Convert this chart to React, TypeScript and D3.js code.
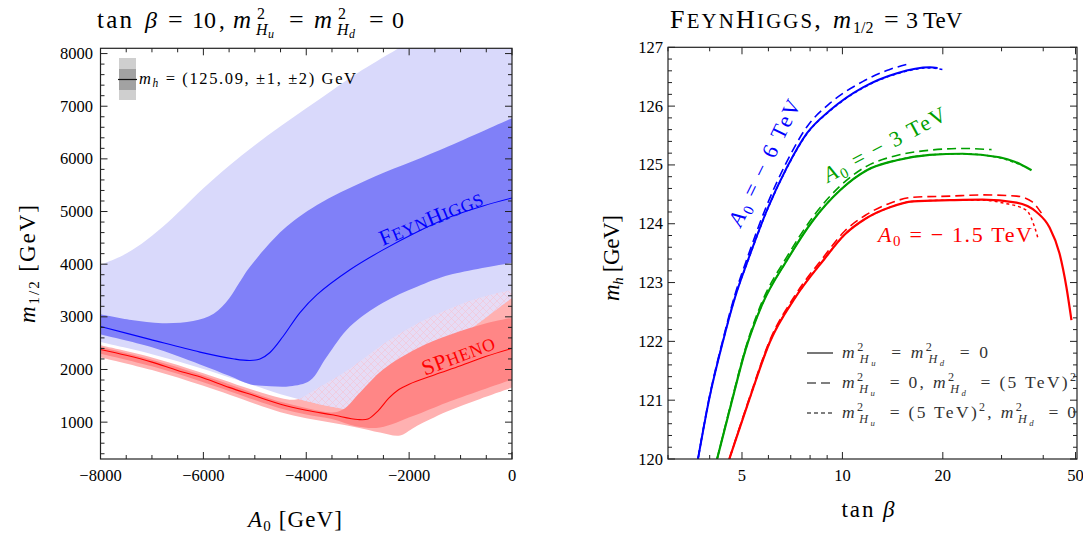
import React from 'react';
import * as d3 from 'd3';

type P = [number, number];

// ---------------- Left panel: tan(beta)=10 ----------------
const leftXMajor = [-8000, -6000, -4000, -2000, 0];
const leftYMajor = [1000, 2000, 3000, 4000, 5000, 6000, 7000, 8000];

// FeynHiggs +-2 GeV band (light blue)
const fh2Upper: P[] = [[-8000, 3990], [-7600, 4150], [-7200, 4390], [-6800, 4700], [-6400, 5060], [-6000, 5440], [-5500, 5870], [-5000, 6260], [-4500, 6620], [-4000, 6960], [-3500, 7300], [-3000, 7630], [-2236, 8080], [-1500, 8480], [0, 9250]];
const fh2Lower: P[] = [[-8000, 2520], [-7000, 2290], [-6000, 2010], [-5000, 1690], [-4500, 1530], [-4000, 1400], [-3500, 1290], [-3091, 1250], [-2508, 1527], [-1847, 2000], [-1206, 2473], [-564, 2947], [0, 3363]];
// FeynHiggs +-1 GeV band (blue)
const fh1Upper: P[] = [[-8000, 3050], [-7400, 2940], [-6800, 2880], [-6200, 2920], [-5800, 3060], [-5500, 3350], [-5300, 3650], [-5094, 3951], [-4452, 4652], [-3791, 5125], [-2819, 5598], [-1400, 6167], [0, 6773]];
const fh1Lower: P[] = [[-8000, 2663], [-7000, 2420], [-6066, 2095], [-5500, 1880], [-5094, 1720], [-4700, 1680], [-4316, 1680], [-3927, 1790], [-3597, 2247], [-3150, 2815], [-2508, 3269], [-1847, 3572], [-1206, 3799], [0, 4026]];
const fhCentral: P[] = [[-8000, 2818], [-7038, 2572], [-6066, 2330], [-5400, 2200], [-5094, 2170], [-4900, 2200], [-4705, 2323], [-4452, 2626], [-4122, 3080], [-3791, 3421], [-3150, 3894], [-2508, 4272], [-1847, 4613], [-1206, 4897], [-564, 5106], [0, 5257]];
// SPheno bands
const sp2Upper: P[] = [[-8000, 2460], [-7000, 2230], [-6000, 1930], [-5000, 1600], [-4500, 1460], [-4200, 1430], [-3790, 1640], [-3149, 2020], [-2508, 2480], [-1847, 2870], [-1206, 3160], [-564, 3381], [0, 3514]];
const sp2Lower: P[] = [[-8000, 2230], [-7000, 1990], [-6000, 1690], [-5000, 1350], [-4500, 1190], [-4000, 1075], [-3500, 990], [-3013, 900], [-2566, 804], [-2177, 747], [-1900, 900], [-1264, 1200], [-622, 1440], [0, 1656]];
const sp1Upper: P[] = [[-8000, 2425], [-7000, 2185], [-6000, 1885], [-5000, 1545], [-4500, 1385], [-4000, 1270], [-3500, 1185], [-3285, 1240], [-2955, 1565], [-2508, 2000], [-1847, 2400], [-1206, 2660], [-500, 2880], [0, 2980]];
const sp1Lower: P[] = [[-8000, 2300], [-7000, 2060], [-6000, 1760], [-5000, 1420], [-4500, 1260], [-4000, 1145], [-3500, 1060], [-3013, 918], [-2566, 899], [-1925, 1115], [-1264, 1373], [0, 1810]];
const spCentral: P[] = [[-8000, 2380], [-7500, 2270], [-7000, 2140], [-6500, 1980], [-6000, 1840], [-5500, 1660], [-5000, 1500], [-4500, 1340], [-4000, 1225], [-3500, 1140], [-3000, 1050], [-2800, 1060], [-2600, 1220], [-2400, 1450], [-2200, 1620], [-2000, 1720], [-1500, 1900], [-1000, 2070], [-500, 2250], [0, 2400]];

// ---------------- Right panel: m_h vs tan(beta) ----------------
const rightXMajor = [5, 10, 20, 50];
const rightXMinor = [3, 4, 6, 7, 8, 9, 30, 40];
const rightYMajor = [120, 121, 122, 123, 124, 125, 126, 127];

const blueSolid: P[] = [[3.69, 120.0], [3.98, 121.0], [4.37, 121.97], [4.76, 122.74], [5.21, 123.38], [5.94, 124.23], [6.82, 124.96], [7.83, 125.54], [9.18, 125.93], [11.53, 126.32], [14.58, 126.56], [18.3, 126.66], [19.3, 126.65]];
const blueLong: P[] = [[3.69, 120.0], [3.98, 121.02], [4.37, 122.0], [4.76, 122.79], [5.21, 123.45], [5.94, 124.32], [6.82, 125.06], [7.83, 125.65], [9.18, 126.05], [11.53, 126.42], [13.8, 126.62], [15.9, 126.72]];
const blueShort: P[] = [[3.69, 120.0], [3.98, 121.0], [4.37, 121.97], [4.76, 122.74], [5.21, 123.37], [5.94, 124.22], [6.82, 124.95], [7.83, 125.53], [9.18, 125.92], [11.53, 126.31], [14.58, 126.55], [18.3, 126.65], [20.0, 126.62]];
const greenSolid: P[] = [[4.21, 120.0], [4.67, 121.0], [5.12, 121.85], [5.74, 122.62], [6.82, 123.38], [8.17, 124.06], [9.84, 124.57], [11.84, 124.91], [14.55, 125.08], [18.27, 125.17], [22.94, 125.19], [29.6, 125.13], [33.0, 125.05], [36.9, 124.91]];
const greenLong: P[] = [[4.21, 120.0], [4.67, 121.02], [5.12, 121.88], [5.74, 122.67], [6.82, 123.44], [8.17, 124.12], [9.84, 124.64], [11.84, 124.98], [14.55, 125.16], [18.27, 125.25], [22.94, 125.28], [28.0, 125.26]];
const greenShort: P[] = [[4.21, 120.0], [4.67, 121.0], [5.12, 121.85], [5.74, 122.62], [6.82, 123.38], [8.17, 124.06], [9.84, 124.57], [11.84, 124.91], [14.55, 125.08], [18.27, 125.17], [22.94, 125.19], [29.6, 125.12], [35.0, 124.98]];
const redSolid: P[] = [[4.58, 120.0], [5.25, 121.0], [6.06, 121.99], [7.21, 122.74], [8.77, 123.38], [10.18, 123.82], [11.69, 124.08], [13.89, 124.28], [16.28, 124.38], [21.0, 124.4], [26.33, 124.41], [33.28, 124.36], [38.17, 124.2], [41.75, 123.94], [44.74, 123.5], [46.95, 122.92], [48.6, 122.36]];
const redLong: P[] = [[4.58, 120.0], [5.25, 121.02], [6.06, 122.02], [7.21, 122.78], [8.77, 123.43], [10.18, 123.88], [11.69, 124.14], [13.89, 124.35], [16.28, 124.45], [21.0, 124.47], [26.33, 124.49], [33.28, 124.47], [37.1, 124.37], [39.5, 124.18]];
const redShort: P[] = [[4.58, 120.0], [5.25, 121.0], [6.06, 121.99], [7.21, 122.74], [8.77, 123.38], [10.18, 123.82], [11.69, 124.08], [13.89, 124.28], [16.28, 124.38], [21.0, 124.4], [26.33, 124.4], [30.5, 124.35], [35.6, 124.23], [37.7, 123.94], [38.5, 123.77]];

const F = "'Liberation Serif', 'Times New Roman', serif";
const BLUE = '#0000ff';
const GREEN = '#00a000';
const RED = '#ff0000';

function range(a: number, b: number, s: number) {
  const out: number[] = [];
  for (let v = a; v <= b + 1e-9; v += s) out.push(+v.toFixed(6));
  return out;
}

// m^2_{H_x} math piece (returns to baseline)
function msq(sub: string, fs: number, k: string) {
  return [
    <tspan key={k + 'm'} fontStyle="italic">m</tspan>,
    <tspan key={k + '2'} fontSize={fs * 0.7} dy={-fs * 0.42}>2</tspan>,
    <tspan key={k + 'H'} fontSize={fs * 0.7} fontStyle="italic" dx={-fs * 0.35} dy={fs * 0.7}>H</tspan>,
    <tspan key={k + 's'} fontSize={fs * 0.5} fontStyle="italic" dy={fs * 0.15}>{sub}</tspan>,
    <tspan key={k + 'r'} dy={-fs * 0.43}>{'\u2009'}</tspan>,
  ];
}

// manual small caps: upper-case letters full size, lower-case as smaller capitals
function smallCaps(s: string, fs: number, k: string) {
  const parts: { t: string; small: boolean }[] = [];
  for (const ch of s) {
    const small = ch !== ch.toUpperCase();
    const last = parts[parts.length - 1];
    if (last && last.small === small) last.t += small ? ch.toUpperCase() : ch;
    else parts.push({ t: small ? ch.toUpperCase() : ch, small });
  }
  return parts.map((p, i) => (
    <tspan key={k + i} fontSize={p.small ? fs * 0.8 : fs}>{p.t}</tspan>
  ));
}

export default function App() {
  const xL = d3.scaleLinear().domain([-8000, 0]).range([100.5, 512]);
  const yL = d3.scaleLinear().domain([300, 8100]).range([459, 48.3]);
  const xR = d3.scaleLog().domain([3, 50.5]).range([668, 1077]);
  const yR = d3.scaleLinear().domain([120, 127]).range([459, 47.3]);

  const lineL = d3.line<P>().x(d => xL(d[0])).y(d => yL(d[1])).curve(d3.curveCatmullRom.alpha(0.5));
  const band = (u: P[], l: P[]) => (lineL(u) as string) + (lineL([...l].reverse()) as string).replace(/^M/, 'L') + 'Z';
  const lineR = d3.line<P>().x(d => xR(d[0])).y(d => yR(d[1])).curve(d3.curveMonotoneX);

  const Lx0 = xL(-8000), Lx1 = xL(0), Ly0 = yL(8100), Ly1 = yL(300);
  const Rx0 = xR(3), Rx1 = xR(50.5), Ry0 = yR(127), Ry1 = yR(120);

  const leftXMinor = range(-8000, 0, 500).filter(v => !leftXMajor.includes(v));
  const leftYMinor = range(400, 8000, 200).filter(v => !leftYMajor.includes(v));
  const rightYMinor = range(120, 127, 0.2).filter(v => Math.abs(v - Math.round(v)) > 1e-6);

  const tick = '#222';
  const ticksX = (scale: (v: number) => number, vals: number[], yb: number, yt: number, len: number, key: string) =>
    vals.map((v, i) => (
      <g key={key + i}>
        <line x1={scale(v)} x2={scale(v)} y1={yb} y2={yb - len} stroke={tick} strokeWidth={1} />
        <line x1={scale(v)} x2={scale(v)} y1={yt} y2={yt + len} stroke={tick} strokeWidth={1} />
      </g>
    ));
  const ticksY = (scale: (v: number) => number, vals: number[], xl: number, xr: number, len: number, key: string) =>
    vals.map((v, i) => (
      <g key={key + i}>
        <line y1={scale(v)} y2={scale(v)} x1={xl} x2={xl + len} stroke={tick} strokeWidth={1} />
        <line y1={scale(v)} y2={scale(v)} x1={xr} x2={xr - len} stroke={tick} strokeWidth={1} />
      </g>
    ));

  const fh2 = band(fh2Upper, fh2Lower);
  const sp2 = band(sp2Upper, sp2Lower);

  const TT = 23; // title font size
  const ts = (x: number, s: string, o: { it?: boolean; fs?: number; y?: number } = {}) => (
    <text key={'t' + x + s} x={x} y={o.y ?? 28} fontSize={o.fs ?? TT} fontStyle={o.it ? 'italic' : 'normal'}>{s}</text>
  );

  return (
    <svg width={1083} height={534} style={{ position: 'absolute', left: 0, top: 0, background: '#fff' }} fontFamily={F}>
      <defs>
        <clipPath id="clipL"><rect x={Lx0} y={Ly0} width={Lx1 - Lx0} height={Ly1 - Ly0} /></clipPath>
        <clipPath id="clipR"><rect x={Rx0} y={Ry0 - 2} width={Rx1 - Rx0} height={Ry1 - Ry0 + 2} /></clipPath>
        <clipPath id="clipFH2"><path d={fh2} /></clipPath>
        <pattern id="hatch" width={7} height={7} patternUnits="userSpaceOnUse">
          <rect width={7} height={7} fill="#e6dcf6" />
          <path d="M0,0 L7,7 M7,0 L0,7" stroke="#f5c3d3" strokeWidth={0.6} />
        </pattern>
      </defs>

      {/* ================= LEFT PANEL ================= */}
      <g clipPath="url(#clipL)">
        <path d={sp2} fill="#ffb1b1" />
        <path d={fh2} fill="#d9d9fb" />
        <g clipPath="url(#clipFH2)"><path d={sp2} fill="url(#hatch)" /></g>
        <path d={band(fh1Upper, fh1Lower)} fill="#8080f8" />
        <path d={band(sp1Upper, sp1Lower)} fill="#ff8686" />
        <path d={lineL(fhCentral) as string} fill="none" stroke={BLUE} strokeWidth={1.1} />
        <path d={lineL(spCentral) as string} fill="none" stroke={RED} strokeWidth={1.1} />
      </g>
      <rect x={Lx0} y={Ly0} width={Lx1 - Lx0} height={Ly1 - Ly0} fill="none" stroke={tick} strokeWidth={1.2} />
      {ticksX(xL, leftXMajor, Ly1, Ly0, 7, 'lxM')}
      {ticksX(xL, leftXMinor, Ly1, Ly0, 4, 'lxm')}
      {ticksY(yL, leftYMajor, Lx0, Lx1, 7, 'lyM')}
      {ticksY(yL, leftYMinor, Lx0, Lx1, 4, 'lym')}
      {leftXMajor.map(v => (
        <text key={'lxl' + v} x={xL(v)} y={481} fontSize={16.5} textAnchor="middle">{v < 0 ? '\u2212' + Math.abs(v) : v}</text>
      ))}
      {leftYMajor.map(v => (
        <text key={'lyl' + v} x={93} y={yL(v) + 5.5} fontSize={16.5} textAnchor="end">{v}</text>
      ))}

      {/* legend */}
      <rect x={119} y={58} width={17} height={42} fill="#cfcfcf" />
      <rect x={119} y={69} width={17} height={21} fill="#a2a2a2" />
      <line x1={118} x2={137} y1={79.5} y2={79.5} stroke="#111" strokeWidth={1.2} />
      <text x={139} y={84} fontSize={16.5} textLength={217} lengthAdjust="spacing">
        <tspan fontStyle="italic">m</tspan>
        <tspan fontSize={11.5} fontStyle="italic" dy={3}>h</tspan>
        <tspan dy={-3}>{' = (125.09, \u00b11, \u00b12) GeV'}</tspan>
      </text>

      {/* band labels */}
      <text transform="translate(434,225) rotate(-22.4)" textAnchor="middle" fill={BLUE} fontSize={22} letterSpacing={0.6}>{smallCaps('FeynHiggs', 22, 'fh')}</text>
      <text transform="translate(461,362) rotate(-21)" textAnchor="middle" fill={RED} fontSize={22} letterSpacing={0.6}>{smallCaps('SPheno', 22, 'sp')}</text>

      {/* left title: tan beta = 10 , m^2_{Hu} = m^2_{Hd} = 0 */}
      <g>
        <text x={97} y={28} fontSize={25} letterSpacing={2.2}>tan</text>
        {ts(145, 'β', { it: true, fs: 24 })}
        {ts(168, '=', { fs: 26 })}
        {ts(192, '10', { fs: 24 })}
        {ts(219, ',')}
        {ts(233, 'm', { it: true, fs: 25 })}
        {ts(257, '2', { fs: 16, y: 19 })}
        {ts(256, 'H', { it: true, fs: 16, y: 35 })}
        {ts(268, 'u', { it: true, fs: 12, y: 38 })}
        {ts(289, '=', { fs: 26 })}
        {ts(314, 'm', { it: true, fs: 25 })}
        {ts(338, '2', { fs: 16, y: 19 })}
        {ts(337, 'H', { it: true, fs: 16, y: 35 })}
        {ts(349, 'd', { it: true, fs: 12, y: 38 })}
        {ts(369, '=', { fs: 26 })}
        {ts(392, '0', { fs: 24 })}
      </g>

      {/* left axis labels */}
      <text x={295} y={527} fontSize={23} textAnchor="middle" textLength={94} lengthAdjust="spacing">
        <tspan fontStyle="italic">A</tspan>
        <tspan fontSize={15} dy={4}>0</tspan>
        <tspan dy={-4}>{' [GeV]'}</tspan>
      </text>
      <text transform="translate(35,264) rotate(-90)" fontSize={23} textAnchor="middle" textLength={118} lengthAdjust="spacing">
        <tspan fontStyle="italic">m</tspan>
        <tspan fontSize={15} dy={4}>1/2</tspan>
        <tspan dy={-4}>{' [GeV]'}</tspan>
      </text>

      {/* ================= RIGHT PANEL ================= */}
      <g clipPath="url(#clipR)">
        <path d={lineR(blueLong) as string} fill="none" stroke={BLUE} strokeWidth={1.6} strokeDasharray="9,5" />
        <path d={lineR(blueShort) as string} fill="none" stroke={BLUE} strokeWidth={1.5} strokeDasharray="3,3" />
        <path d={lineR(blueSolid) as string} fill="none" stroke={BLUE} strokeWidth={2} />
        <path d={lineR(greenLong) as string} fill="none" stroke={GREEN} strokeWidth={1.6} strokeDasharray="9,5" />
        <path d={lineR(greenShort) as string} fill="none" stroke={GREEN} strokeWidth={1.5} strokeDasharray="3,3" />
        <path d={lineR(greenSolid) as string} fill="none" stroke={GREEN} strokeWidth={2.2} />
        <path d={lineR(redLong) as string} fill="none" stroke={RED} strokeWidth={1.6} strokeDasharray="9,5" />
        <path d={lineR(redShort) as string} fill="none" stroke={RED} strokeWidth={1.5} strokeDasharray="3,3" />
        <path d={lineR(redSolid) as string} fill="none" stroke={RED} strokeWidth={2.2} />
      </g>
      <rect x={Rx0} y={Ry0} width={Rx1 - Rx0} height={Ry1 - Ry0} fill="none" stroke={tick} strokeWidth={1.2} />
      {ticksX(xR, rightXMajor, Ry1, Ry0, 7, 'rxM')}
      {ticksX(xR, rightXMinor, Ry1, Ry0, 4, 'rxm')}
      {ticksY(yR, rightYMajor, Rx0, Rx1, 7, 'ryM')}
      {ticksY(yR, rightYMinor, Rx0, Rx1, 4, 'rym')}
      {rightXMajor.map(v => (
        <text key={'rxl' + v} x={xR(v)} y={481} fontSize={16.5} textAnchor="middle">{v}</text>
      ))}
      {rightYMajor.map(v => (
        <text key={'ryl' + v} x={663} y={yR(v) + 5.5} fontSize={16.5} textAnchor="end">{v}</text>
      ))}

      {/* curve labels */}
      <text transform="translate(771,166) rotate(-64)" textAnchor="middle" fill={BLUE} fontSize={22} textLength={138} lengthAdjust="spacing">
        <tspan fontStyle="italic">A</tspan>
        <tspan fontSize={15} dy={4}>0</tspan>
        <tspan dy={-4}>{' = \u2212 6 TeV'}</tspan>
      </text>
      <text transform="translate(888,151) rotate(-28)" textAnchor="middle" fill={GREEN} fontSize={22} textLength={136} lengthAdjust="spacing">
        <tspan fontStyle="italic">A</tspan>
        <tspan fontSize={15} dy={4}>0</tspan>
        <tspan dy={-4}>{' = \u2212 3 TeV'}</tspan>
      </text>
      <text x={878} y={242} fill={RED} fontSize={22} textLength={154} lengthAdjust="spacing">
        <tspan fontStyle="italic">A</tspan>
        <tspan fontSize={15} dy={4}>0</tspan>
        <tspan dy={-4}>{' = \u2212 1.5 TeV'}</tspan>
      </text>

      {/* line-style legend */}
      <g stroke="#555" strokeWidth={1.6}>
        <line x1={807} x2={833} y1={353} y2={353} />
        <line x1={807} x2={833} y1={383} y2={383} strokeDasharray="9,5" />
        <line x1={807} x2={833} y1={413} y2={413} strokeDasharray="4,3" />
      </g>
      <g fill="#333" fontSize={17.5}>
        <text x={842} y={358} textLength={146} lengthAdjust="spacing">
          {msq('u', 17.5, 'l1a')}
          <tspan>{' = '}</tspan>
          {msq('d', 17.5, 'l1b')}
          <tspan>{' = 0'}</tspan>
        </text>
        <text x={842} y={388} textLength={234} lengthAdjust="spacing">
          {msq('u', 17.5, 'l2a')}
          <tspan>{' = 0, '}</tspan>
          {msq('d', 17.5, 'l2b')}
          <tspan>{' = (5 TeV)'}</tspan>
          <tspan fontSize={12} dy={-7}>2</tspan>
        </text>
        <text x={842} y={418} textLength={234} lengthAdjust="spacing">
          {msq('u', 17.5, 'l3a')}
          <tspan>{' = (5 TeV)'}</tspan>
          <tspan fontSize={12} dy={-7}>2</tspan>
          <tspan dy={7}>{', '}</tspan>
          {msq('d', 17.5, 'l3b')}
          <tspan>{' = 0'}</tspan>
        </text>
      </g>

      {/* right title: FeynHiggs, m_{1/2} = 3 TeV */}
      <g>
        <text x={670} y={28} fontSize={26} letterSpacing={2.2}>{smallCaps('FeynHiggs,', 26, 'rt')}</text>
        {ts(833, 'm', { it: true, fs: 25 })}
        {ts(853, '1/2', { fs: 16, y: 33 })}
        {ts(884, '=', { fs: 26 })}
        {ts(906, '3', { fs: 24 })}
        <text x={923} y={28} fontSize={23}>TeV</text>
      </g>

      {/* right axis labels */}
      <text x={868} y={517} fontSize={23} textAnchor="middle" textLength={53} lengthAdjust="spacing">
        <tspan>tan </tspan>
        <tspan fontStyle="italic">β</tspan>
      </text>
      <text transform="translate(619,258) rotate(-90)" fontSize={23} textAnchor="middle" textLength={86} lengthAdjust="spacing">
        <tspan fontStyle="italic">m</tspan>
        <tspan fontSize={15} fontStyle="italic" dy={4}>h</tspan>
        <tspan dy={-4}>{' [GeV]'}</tspan>
      </text>
    </svg>
  );
}
